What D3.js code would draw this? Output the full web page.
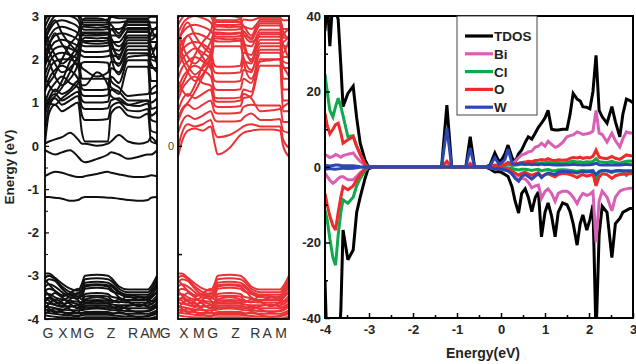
<!DOCTYPE html>
<html>
<head>
<meta charset="utf-8">
<script src="https://cdn.jsdelivr.net/npm/d3@7"></script>
<style>
  body { margin: 0; background: #fff; }
  svg { display: block; font-family: "Liberation Sans", Arial, sans-serif; }
</style>
</head>
<body>
<svg id="chart" width="636" height="364"></svg>
<script>
// ---- Band structure data ----
// k distance of the nodes along the path (same for both spin panels).
const kNodes = [0, 4, 10, 17, 25, 33, 37, 40, 52, 63, 66, 74, 83, 94, 103, 106, 112];
const kLabels = ['G', 'X', 'M', 'G', 'Z', 'R', 'A', 'M'];
// label positions (k distance) as printed under each panel
const kLabelPosUp = [3, 18, 31, 44, 66, 88, 100, 110];
const kLabelPosDown = [-13, 6, 21, 35, 58, 78, 90, 104];

// spin up: defect states inside the gap
const gapBandsUp = [
  [0.05, 0.10, 0.15, 0.20, 0.30, 0.15, 0.05, 0.05, 0.00, 0.05, 0.10, 0.25, 0.10, 0.05, 0.10, 0.20, 0.05],
  [-0.10, -0.15, -0.20, -0.15, -0.10, -0.25, -0.35, -0.38, -0.30, -0.20, -0.15, -0.20, -0.30, -0.25, -0.20, -0.20, -0.10],
  [-0.70, -0.65, -0.60, -0.62, -0.68, -0.72, -0.72, -0.70, -0.65, -0.60, -0.62, -0.66, -0.70, -0.72, -0.70, -0.68, -0.70],
  [-1.18, -1.18, -1.20, -1.22, -1.27, -1.25, -1.20, -1.18, -1.18, -1.20, -1.20, -1.22, -1.25, -1.27, -1.25, -1.20, -1.18]
];

// spin up conduction bands
const condBandsUp = [
  [0.05, 0.75, 0.95, 0.80, 0.90, 1.00, 0.30, 0.10, 0.10, 0.10, 0.75, 0.90, 0.70, 0.65, 0.75, 0.10, 0.05],
  [0.40, 0.90, 1.10, 0.95, 1.05, 1.15, 0.70, 0.60, 0.60, 0.62, 0.90, 1.00, 0.82, 0.80, 0.85, 0.35, 0.30],
  [0.70, 1.05, 1.20, 1.05, 1.15, 1.25, 0.90, 0.85, 0.85, 0.87, 1.05, 1.10, 0.95, 0.92, 0.98, 0.60, 0.55],
  [1.00, 1.25, 1.45, 1.60, 1.45, 1.35, 1.05, 1.00, 1.00, 1.02, 1.30, 1.20, 1.83, 1.83, 1.83, 0.85, 0.90],
  [1.25, 1.55, 1.75, 1.85, 1.75, 1.55, 1.18, 1.15, 1.15, 1.17, 1.60, 1.45, 1.98, 1.98, 1.98, 1.20, 1.25],
  [1.45, 1.75, 1.95, 2.00, 2.00, 1.85, 1.32, 1.29, 1.29, 1.31, 1.80, 1.70, 2.14, 2.14, 2.14, 1.50, 1.50],
  [1.65, 1.90, 2.10, 2.15, 2.10, 2.00, 1.80, 1.75, 1.60, 1.70, 1.95, 1.90, 2.30, 2.30, 2.30, 1.80, 1.80],
  [1.85, 2.05, 2.25, 2.30, 2.25, 2.15, 2.08, 2.05, 2.05, 2.07, 2.10, 2.05, 2.44, 2.44, 2.44, 2.05, 2.05],
  [2.00, 2.20, 2.40, 2.45, 2.40, 2.30, 2.20, 2.17, 2.17, 2.19, 2.25, 2.20, 2.55, 2.55, 2.55, 2.25, 2.25],
  [2.15, 2.35, 2.55, 2.60, 2.55, 2.45, 2.32, 2.30, 2.30, 2.32, 2.40, 2.40, 2.63, 2.63, 2.63, 2.40, 2.40],
  [2.30, 2.50, 2.70, 2.75, 2.70, 2.60, 2.45, 2.42, 2.42, 2.44, 2.55, 2.55, 2.72, 2.72, 2.72, 2.55, 2.55],
  [2.45, 2.65, 2.85, 2.90, 2.85, 2.75, 2.58, 2.55, 2.55, 2.57, 2.70, 2.70, 2.79, 2.79, 2.79, 2.70, 2.70],
  [2.60, 2.80, 3.00, 3.05, 3.00, 2.90, 2.70, 2.68, 2.68, 2.70, 2.85, 2.85, 2.88, 2.88, 2.88, 2.85, 2.85],
  [2.75, 2.95, 3.10, 3.15, 3.10, 3.00, 2.82, 2.79, 2.79, 2.81, 2.98, 2.95, 2.95, 2.95, 2.95, 2.98, 2.98],
  [2.90, 3.05, 3.20, 3.25, 3.20, 3.10, 2.92, 2.90, 2.90, 2.92, 3.10, 3.05, 3.05, 3.05, 3.05, 3.10, 3.10],
  [1.30, 1.45, 1.65, 2.00, 2.35, 2.60, 2.88, 2.95, 2.95, 2.88, 2.50, 2.30, 2.50, 2.50, 2.50, 2.30, 1.90],
  [2.20, 1.95, 1.60, 1.40, 1.55, 1.90, 2.45, 2.50, 2.48, 2.50, 2.20, 1.85, 2.22, 2.22, 2.22, 2.10, 2.40],
  [2.70, 2.40, 2.10, 1.90, 2.05, 2.35, 2.62, 2.62, 2.62, 2.62, 2.35, 2.10, 2.37, 2.37, 2.37, 2.60, 2.75],
  [0.90, 1.10, 1.30, 1.20, 1.30, 1.50, 1.40, 1.40, 1.70, 1.40, 1.15, 1.05, 0.95, 1.00, 1.05, 0.70, 0.80],
  [1.60, 1.40, 1.25, 1.50, 1.95, 2.20, 2.55, 2.60, 2.58, 2.60, 2.05, 1.65, 2.05, 2.08, 2.10, 1.90, 1.70],
  [2.50, 2.20, 1.90, 1.70, 1.80, 2.10, 2.75, 2.75, 2.73, 2.75, 2.45, 2.00, 2.68, 2.68, 2.68, 2.45, 2.60],
  [1.90, 2.30, 2.60, 2.35, 2.10, 1.85, 2.40, 2.38, 2.36, 2.38, 2.70, 2.50, 2.85, 2.85, 2.85, 2.00, 1.95],
  [2.40, 2.70, 2.90, 2.60, 2.35, 2.20, 2.85, 2.85, 2.85, 2.85, 2.80, 2.60, 2.92, 2.92, 2.92, 2.70, 2.50],
  [0.80, 1.00, 1.15, 1.35, 1.70, 2.00, 1.55, 1.55, 1.55, 1.55, 1.35, 1.25, 1.05, 1.05, 1.05, 1.00, 1.10],
  [1.15, 1.00, 0.95, 1.10, 1.25, 1.45, 1.92, 1.94, 1.94, 1.92, 1.50, 1.35, 1.15, 1.18, 1.20, 1.30, 1.40]
];

// spin down conduction bands
const condBandsDown = [
  [-0.25, 0.10, 0.35, 0.40, 0.35, 0.45, 0.05, -0.20, -0.05, 0.25, 0.30, 0.35, 0.38, 0.38, 0.35, 0.00, -0.25],
  [-0.05, 0.30, 0.50, 0.45, 0.50, 0.60, 0.30, 0.20, 0.25, 0.40, 0.45, 0.50, 0.45, 0.45, 0.45, 0.15, -0.05],
  [0.30, 0.55, 0.70, 0.62, 0.70, 0.80, 0.60, 0.56, 0.56, 0.58, 0.65, 0.75, 0.60, 0.60, 0.62, 0.35, 0.30],
  [0.55, 0.80, 0.95, 0.85, 0.95, 1.05, 0.78, 0.75, 0.75, 0.77, 0.90, 0.95, 0.93, 0.93, 0.93, 0.55, 0.55],
  [0.80, 1.05, 1.20, 1.10, 1.20, 1.30, 0.93, 0.90, 0.90, 0.92, 1.10, 1.15, 1.85, 1.85, 1.85, 0.80, 0.80],
  [1.05, 1.30, 1.50, 1.60, 1.45, 1.40, 1.12, 1.10, 1.10, 1.12, 1.30, 1.25, 2.00, 2.00, 2.00, 1.05, 1.05],
  [1.30, 1.55, 1.75, 1.85, 1.75, 1.60, 1.32, 1.29, 1.29, 1.31, 1.55, 1.45, 2.15, 2.15, 2.15, 1.30, 1.30],
  [1.55, 1.80, 1.95, 2.05, 1.95, 1.80, 1.50, 1.48, 1.48, 1.50, 1.75, 1.70, 2.30, 2.30, 2.30, 1.55, 1.55],
  [1.80, 2.00, 2.15, 2.25, 2.15, 2.00, 1.70, 1.68, 1.68, 1.70, 1.95, 1.90, 2.45, 2.45, 2.45, 1.80, 1.80],
  [2.00, 2.20, 2.35, 2.40, 2.35, 2.20, 1.85, 1.83, 1.83, 1.85, 2.15, 2.10, 2.58, 2.58, 2.58, 2.05, 2.05],
  [2.20, 2.40, 2.55, 2.60, 2.55, 2.45, 2.43, 2.41, 2.41, 2.43, 2.35, 2.30, 2.68, 2.68, 2.68, 2.30, 2.30],
  [2.40, 2.60, 2.75, 2.80, 2.75, 2.65, 2.54, 2.52, 2.52, 2.54, 2.55, 2.50, 2.78, 2.78, 2.78, 2.50, 2.50],
  [2.60, 2.80, 2.95, 3.00, 2.95, 2.85, 2.70, 2.68, 2.68, 2.70, 2.75, 2.70, 2.88, 2.88, 2.88, 2.70, 2.70],
  [2.80, 2.95, 3.10, 3.15, 3.10, 3.00, 2.82, 2.79, 2.79, 2.81, 2.92, 2.90, 2.96, 2.96, 2.96, 2.90, 2.90],
  [2.95, 3.08, 3.20, 3.25, 3.20, 3.12, 2.92, 2.90, 2.90, 2.92, 3.05, 3.05, 3.05, 3.05, 3.05, 3.05, 3.05],
  [1.20, 1.40, 1.70, 2.10, 2.40, 2.65, 2.95, 3.00, 3.00, 2.95, 2.60, 2.40, 2.52, 2.52, 2.52, 2.35, 2.00],
  [2.30, 2.00, 1.70, 1.50, 1.65, 2.00, 2.30, 2.30, 2.30, 2.30, 2.05, 1.75, 2.22, 2.22, 2.22, 2.15, 2.45],
  [2.65, 2.35, 2.05, 1.90, 2.10, 2.40, 2.62, 2.62, 2.60, 2.62, 2.30, 2.00, 2.37, 2.37, 2.37, 2.55, 2.70],
  [1.50, 1.30, 1.15, 1.40, 1.85, 2.15, 2.48, 2.48, 2.46, 2.48, 1.95, 1.55, 1.95, 1.98, 2.00, 1.85, 1.60],
  [2.45, 2.15, 1.85, 1.65, 1.80, 2.05, 2.76, 2.76, 2.74, 2.76, 2.45, 1.95, 2.62, 2.62, 2.62, 2.40, 2.55],
  [1.85, 2.25, 2.55, 2.30, 2.05, 1.80, 2.60, 2.58, 2.58, 2.60, 2.65, 2.45, 2.83, 2.83, 2.83, 1.95, 1.90],
  [2.35, 2.65, 2.85, 2.55, 2.30, 2.15, 2.86, 2.86, 2.86, 2.86, 2.78, 2.55, 2.92, 2.92, 2.92, 2.65, 2.45],
  [0.65, 0.85, 1.00, 1.25, 1.60, 1.90, 1.05, 1.02, 1.02, 1.05, 1.20, 1.10, 0.80, 0.82, 0.85, 0.90, 1.00]
];

// valence bands (both spins look the same)
const valBands = [
  [-2.95, -2.95, -3.05, -3.18, -3.30, -3.35, -3.18, -3.00, -2.98, -3.00, -3.05, -3.25, -3.32, -3.32, -3.32, -3.25, -3.00],
  [-3.05, -3.00, -3.08, -3.25, -3.38, -3.42, -3.28, -3.08, -3.06, -3.08, -3.12, -3.30, -3.38, -3.38, -3.38, -3.32, -3.08],
  [-3.15, -3.08, -3.12, -3.30, -3.45, -3.48, -3.38, -3.16, -3.14, -3.16, -3.20, -3.36, -3.44, -3.44, -3.44, -3.40, -3.16],
  [-3.25, -3.20, -3.25, -3.38, -3.50, -3.52, -3.46, -3.30, -3.28, -3.30, -3.35, -3.42, -3.50, -3.50, -3.50, -3.46, -3.26],
  [-3.35, -3.30, -3.35, -3.45, -3.42, -3.48, -3.55, -3.42, -3.40, -3.42, -3.48, -3.52, -3.56, -3.56, -3.56, -3.52, -3.36],
  [-3.45, -3.42, -3.50, -3.55, -3.58, -3.60, -3.62, -3.55, -3.50, -3.55, -3.58, -3.60, -3.62, -3.62, -3.62, -3.60, -3.46],
  [-3.55, -3.52, -3.60, -3.65, -3.62, -3.66, -3.68, -3.62, -3.60, -3.62, -3.66, -3.68, -3.68, -3.68, -3.68, -3.66, -3.56],
  [-3.62, -3.64, -3.68, -3.72, -3.70, -3.74, -3.74, -3.70, -3.68, -3.70, -3.72, -3.74, -3.75, -3.75, -3.75, -3.72, -3.64],
  [-3.70, -3.72, -3.75, -3.78, -3.80, -3.80, -3.80, -3.78, -3.76, -3.78, -3.80, -3.80, -3.82, -3.82, -3.82, -3.80, -3.72],
  [-3.78, -3.80, -3.82, -3.84, -3.86, -3.86, -3.86, -3.84, -3.83, -3.84, -3.86, -3.87, -3.88, -3.88, -3.88, -3.86, -3.80],
  [-3.85, -3.86, -3.88, -3.90, -3.92, -3.92, -3.92, -3.90, -3.90, -3.90, -3.92, -3.93, -3.94, -3.94, -3.94, -3.92, -3.88],
  [-3.92, -3.93, -3.95, -3.96, -3.97, -3.98, -3.98, -3.96, -3.96, -3.96, -3.97, -3.98, -3.99, -3.99, -3.99, -3.98, -3.94],
  [-3.35, -3.45, -3.58, -3.70, -3.55, -3.40, -3.48, -3.25, -3.22, -3.25, -3.30, -3.50, -3.60, -3.70, -3.60, -3.50, -3.40],
  [-3.60, -3.50, -3.40, -3.50, -3.65, -3.75, -3.60, -3.48, -3.46, -3.48, -3.55, -3.62, -3.44, -3.48, -3.52, -3.58, -3.60],
  [-3.75, -3.65, -3.55, -3.62, -3.78, -3.85, -3.70, -3.65, -3.64, -3.65, -3.70, -3.78, -3.70, -3.66, -3.72, -3.74, -3.70],
  [-3.10, -3.20, -3.35, -3.48, -3.40, -3.30, -3.40, -3.22, -3.20, -3.22, -3.24, -3.40, -3.47, -3.55, -3.47, -3.38, -3.22],
  [-3.50, -3.58, -3.66, -3.58, -3.50, -3.56, -3.72, -3.58, -3.56, -3.58, -3.62, -3.55, -3.60, -3.70, -3.62, -3.65, -3.52],
  [-3.68, -3.76, -3.85, -3.80, -3.72, -3.68, -3.78, -3.74, -3.72, -3.74, -3.76, -3.70, -3.78, -3.85, -3.80, -3.78, -3.68],
  [-3.88, -3.82, -3.76, -3.84, -3.90, -3.95, -3.88, -3.86, -3.86, -3.86, -3.90, -3.84, -3.90, -3.96, -3.92, -3.90, -3.84]
];

// ---- DOS data ----
const dosEnergy = [-4.0, -3.95, -3.89, -3.82, -3.76, -3.7, -3.64, -3.59, -3.48, -3.36, -3.28, -3.2, -3.09, -3.02, -2.9,
  -1.35, -1.23, -1.12, -0.8, -0.7, -0.6, -0.35,
  -0.25, -0.14, -0.05, 0.02, 0.09, 0.16, 0.25, 0.32, 0.4, 0.47, 0.55, 0.62, 0.7, 0.78, 0.85, 0.92, 1.0, 1.07,
  1.15, 1.23, 1.3, 1.4, 1.5, 1.57, 1.64, 1.73, 1.8, 1.86, 1.95, 2.02, 2.09, 2.16, 2.23, 2.3, 2.41, 2.52, 2.6,
  2.7, 2.77, 2.85, 2.93, 3.0];

const tdosUp = [36, 45, 32, 45, 42, 39, 27, 16, 19.5, 21.4, 13, 6.3, 1.8, 0.2, 0,
  0, 16.4, 0, 0, 8, 0, 0,
  0.5, 3.7, 1.5, 2, 3.5, 5.8, 2.5, 1.3, 3.5, 4.5, 6.5, 8, 7.4, 9, 10.5, 11.6, 13, 15, 10, 9.8,
  9.8, 10, 10, 14, 19.5, 18, 17.5, 16, 15.8, 15.4, 20, 29.6, 15, 13.3, 11.6, 16, 12, 8, 14, 18, 17.6, 17];
const tdosDown = [-30, -50, -50, -50, -50, -50, -38, -16.7, -24.6, -22, -12, -8, -3, -0.5, 0,
  0, 0, 0, 0, 0, 0, 0,
  -0.5, -1.3, -1.2, -1.5, -2, -2.5, -5.2, -9, -12.2, -7, -5.8, -8, -11.8, -8, -6.6, -18.5, -12, -9.5, -13, -18.5,
  -12, -9.5, -10, -11.8, -15, -20.7, -15, -12.7, -16.7, -14, -10, -45, -18, -10.4, -12, -24, -15, -13.6, -12, -11.5, -11, -11];

const biUp = [3.3, 3.0, 2.5, 2.8, 3.3, 3.0, 2.6, 3.0, 3.4, 3.7, 2.5, 1.5, 0.5, 0.1, 0,
  0, 0.3, 0, 0, 1.0, 0, 0,
  0.1, 0.5, 0.3, 0.5, 0.8, 1.2, 0.8, 1.5, 2.5, 3.2, 3.5, 4, 4.2, 5.3, 5.5, 6.3, 5.5, 6.8, 6, 5.2,
  5.5, 6.5, 8, 8.3, 8.5, 9.3, 9, 8.6, 8.8, 9, 9.5, 15, 9, 8.6, 6.6, 9, 7, 5.3, 7.5, 9.3, 9, 9];
const biDown = [-1.6, -2.5, -3.5, -4.3, -3.8, -3.0, -2.6, -2.6, -3.4, -3.4, -2.5, -1.5, -0.5, -0.1, 0,
  0, 0, 0, 0, 0, 0, 0,
  -0.2, -0.5, -0.4, -0.6, -0.8, -1, -1.8, -2.5, -3.6, -3, -3.2, -4, -5.5, -5, -4.8, -8.3, -6.5, -5.8, -7, -9.1,
  -7, -6.4, -6.4, -7, -8, -9.7, -8, -7, -7.5, -7.2, -6.5, -20, -9, -6.4, -8, -11.6, -8, -6.4, -6, -5.8, -5.6, -5.6];

const clUp = [24.6, 20, 15, 13.3, 16, 18.2, 16, 13.6, 8, 8.3, 5.5, 3.5, 0.9, 0.1, 0,
  0, 0, 0, 0, 0, 0, 0,
  0.1, 0.3, 0.2, 0.3, 0.4, 0.6, 0.4, 0.5, 0.6, 0.8, 0.7, 0.9, 0.8, 1.0, 0.9, 1.1, 1.0, 1.3, 1.0, 1.1,
  1.2, 1.0, 1.2, 1.4, 1.5, 1.3, 1.4, 1.2, 1.4, 1.3, 1.5, 2.2, 1.4, 1.3, 1.2, 1.5, 1.2, 1.0, 1.3, 1.5, 1.6, 1.5];
const clDown = [-11.4, -14, -19, -24, -26, -18, -12, -8.7, -9.6, -8, -5, -3, -1, -0.1, 0,
  0, 0, 0, 0, 0, 0, 0,
  0, -0.1, -0.1, -0.2, -0.2, -0.3, -0.4, -0.6, -0.8, -0.6, -0.6, -0.7, -0.9, -0.7, -0.6, -1.0, -0.8, -0.7, -0.9, -1.0,
  -0.8, -0.7, -0.8, -0.9, -1.0, -1.2, -1.0, -0.9, -1.0, -1.0, -0.9, -3.5, -1.2, -0.9, -1.0, -1.5, -1.1, -1.0, -1.2, -2.2, -1.4, -1.3];

const oUp = [14.2, 11, 8.8, 10, 11.2, 11.6, 9, 6.3, 7.2, 8, 5.5, 3.3, 0.8, 0.1, 0,
  0, 1.5, 0, 0, 0.8, 0, 0,
  0.1, 0.5, 0.3, 0.4, 0.6, 1.2, 0.6, 0.8, 1.0, 1.2, 1.3, 1.5, 1.4, 1.7, 1.8, 2.0, 1.8, 2.2, 1.8, 1.7,
  1.9, 1.8, 1.9, 2.3, 2.5, 2.4, 2.6, 2.3, 2.5, 2.4, 2.8, 4.5, 2.6, 2.4, 2.2, 2.8, 2.3, 2.0, 2.6, 3.2, 3.0, 3.0];
const oDown = [-7, -10, -13, -15.5, -16.7, -12, -8, -5.2, -6, -5, -3.4, -2, -0.6, 0, 0,
  0, 0, 0, 0, 0, 0, 0,
  -0.1, -0.3, -0.3, -0.4, -0.5, -0.6, -1.0, -1.6, -2.2, -1.6, -1.4, -1.8, -2.2, -1.8, -1.5, -2.6, -2.0, -1.8, -2.2, -2.6,
  -2.0, -1.7, -1.8, -2.0, -2.3, -2.8, -2.3, -2.0, -2.4, -2.2, -1.8, -5, -2.6, -1.8, -2.0, -3.0, -2.3, -2.0, -1.9, -1.8, -1.8, -1.8];

const wUp = [0.5, 0.4, 0.3, 0.4, 0.5, 0.5, 0.4, 0.3, 0.3, 0.3, 0.2, 0.1, 0, 0, 0,
  0, 10.3, 0, 0, 5, 0, 0,
  0.3, 2.5, 0.8, 1.2, 2.0, 4.8, 1.0, 0.6, 0.8, 0.9, 0.7, 0.8, 0.6, 0.7, 0.6, 0.8, 0.6, 0.7, 0.6, 0.5,
  0.6, 0.5, 0.6, 0.6, 0.7, 0.6, 0.6, 0.5, 0.6, 0.6, 0.7, 1.0, 0.6, 0.5, 0.5, 0.6, 0.5, 0.5, 0.6, 0.7, 0.6, 0.6];
const wDown = [-0.5, -0.5, -0.4, -0.5, -0.6, -0.5, -0.4, -0.3, -0.4, -0.3, -0.2, -0.1, 0, 0, 0,
  0, 0, 0, 0, 0, 0, 0,
  -0.2, -0.5, -0.4, -0.6, -0.8, -1.0, -1.8, -3.0, -3.8, -2.5, -2.0, -2.5, -3.2, -2.4, -1.8, -2.8, -2.0, -1.6, -1.8, -2.0,
  -1.4, -1.2, -1.2, -1.3, -1.4, -1.6, -1.3, -1.2, -1.3, -1.2, -1.1, -2.0, -1.2, -1.0, -1.0, -1.2, -1.0, -0.9, -1.0, -1.0, -1.0, -1.0];

const dosNames = ['TDOS', 'Bi', 'Cl', 'O', 'W'];
const dosColors = ['#000000', '#d95fb5', '#10a84a', '#ee2a2a', '#2c48b0'];
const dosUp = [tdosUp, biUp, clUp, oUp, wUp];
const dosDown = [tdosDown, biDown, clDown, oDown, wDown];

// ---- drawing ----
const svg = d3.select('#chart');
const bandTop = 16, bandBottom = 319;
const yBand = d3.scaleLinear().domain([-4, 3]).range([bandBottom, bandTop]);
const plainNum = d => String(d);   // keep an ascii hyphen like the original

function drawBandPanel(id, x0, x1, bandSets, color, labelPos, leftAxis) {
  const xk = d3.scaleLinear().domain([0, 112]).range([x0, x1]);
  const g = svg.append('g');

  svg.append('clipPath').attr('id', id)
    .append('rect')
    .attr('x', x0).attr('y', bandTop)
    .attr('width', x1 - x0).attr('height', bandBottom - bandTop);

  const line = d3.line()
    .x((d, i) => xk(kNodes[i]))
    .y(d => yBand(d))
    .curve(d3.curveMonotoneX);

  const lines = g.append('g').attr('clip-path', 'url(#' + id + ')');
  bandSets.forEach(function (set) {
    lines.selectAll(null)
      .data(set)
      .join('path')
      .attr('d', line)
      .attr('fill', 'none')
      .attr('stroke', color)
      .attr('stroke-width', 2);
  });

  // frame
  g.append('rect')
    .attr('x', x0).attr('y', bandTop)
    .attr('width', x1 - x0).attr('height', bandBottom - bandTop)
    .attr('fill', 'none').attr('stroke', '#000').attr('stroke-width', 1.8);

  // k labels
  g.selectAll('text.k')
    .data(kLabels)
    .join('text')
    .attr('class', 'k')
    .attr('x', (d, i) => xk(labelPos[i]))
    .attr('y', 338)
    .attr('text-anchor', 'middle')
    .attr('font-size', 14)
    .attr('fill', '#333')
    .text(d => d);

  if (leftAxis) {
    const ax = d3.axisLeft(yBand).ticks(7).tickSize(-4).tickPadding(6).tickFormat(plainNum);
    const ag = g.append('g').attr('transform', 'translate(' + x0 + ',0)').call(ax);
    ag.select('.domain').remove();
    ag.selectAll('text').attr('font-size', 13).attr('font-weight', 'bold').attr('fill', '#222');
    ag.selectAll('line').attr('stroke-width', 1.2);
    const minor = d3.axisLeft(yBand).tickValues([2.5, 1.5, 0.5, -0.5, -1.5, -2.5, -3.5]).tickSize(-3).tickFormat('');
    const mg = g.append('g').attr('transform', 'translate(' + x0 + ',0)').call(minor);
    mg.select('.domain').remove();
  } else {
    const ax = d3.axisLeft(yBand).tickValues([2.5, 0, -2.5]).tickSize(-4).tickPadding(4)
      .tickFormat(d => d === 0 ? '0' : '');
    const ag = g.append('g').attr('transform', 'translate(' + x0 + ',0)').call(ax);
    ag.select('.domain').remove();
    ag.selectAll('text').attr('font-size', 11).attr('fill', '#444');
    ag.selectAll('line').attr('stroke-width', 1.5);
  }
}

drawBandPanel('clipUp', 45, 157, [valBands, condBandsUp, gapBandsUp], '#111', kLabelPosUp, true);
drawBandPanel('clipDown', 178, 289, [valBands, condBandsDown], '#ea3338', kLabelPosDown, false);

svg.append('text')
  .attr('transform', 'translate(14,167) rotate(-90)')
  .attr('text-anchor', 'middle')
  .attr('font-size', 13.5)
  .attr('font-weight', 'bold')
  .attr('fill', '#222')
  .text('Energy (eV)');

// DOS panel
const dx0 = 325, dx1 = 633, dy0 = 16, dy1 = 318;
const xE = d3.scaleLinear().domain([-4, 3]).range([dx0, dx1]);
const yD = d3.scaleLinear().domain([-40, 40]).range([dy1, dy0]);

svg.append('clipPath').attr('id', 'clipDos')
  .append('rect').attr('x', dx0).attr('y', dy0).attr('width', dx1 - dx0).attr('height', dy1 - dy0);

const dosG = svg.append('g').attr('clip-path', 'url(#clipDos)');
const dosLine = d3.line().x((d, i) => xE(dosEnergy[i])).y(d => yD(d));

dosNames.forEach(function (name, s) {
  [dosUp[s], dosDown[s]].forEach(function (vals) {
    dosG.append('path')
      .attr('d', dosLine(vals))
      .attr('fill', 'none')
      .attr('stroke', dosColors[s])
      .attr('stroke-width', 3)
      .attr('stroke-linejoin', 'miter')
      .attr('stroke-miterlimit', 3);
  });
});

svg.append('rect')
  .attr('x', dx0).attr('y', dy0).attr('width', dx1 - dx0).attr('height', dy1 - dy0)
  .attr('fill', 'none').attr('stroke', '#000').attr('stroke-width', 2);

// axes
const xAx = svg.append('g').attr('transform', 'translate(0,' + dy1 + ')')
  .call(d3.axisBottom(xE).ticks(7).tickSize(-5).tickPadding(7).tickFormat(plainNum));
xAx.select('.domain').remove();
xAx.selectAll('text').attr('font-size', 13).attr('font-weight', 'bold').attr('fill', '#222');
xAx.selectAll('line').attr('stroke-width', 1.5);
const xMinor = svg.append('g').attr('transform', 'translate(0,' + dy1 + ')')
  .call(d3.axisBottom(xE).tickValues(d3.range(-3.5, 3, 1)).tickSize(-3).tickFormat(''));
xMinor.select('.domain').remove();
xMinor.selectAll('line').attr('stroke-width', 1.5);

const yAx = svg.append('g').attr('transform', 'translate(' + dx0 + ',0)')
  .call(d3.axisLeft(yD).tickValues([-40, -20, 0, 20, 40]).tickSize(-5).tickPadding(4).tickFormat(plainNum));
yAx.select('.domain').remove();
yAx.selectAll('text').attr('font-size', 13).attr('font-weight', 'bold').attr('fill', '#222');
yAx.selectAll('line').attr('stroke-width', 1.5);
const yMinor = svg.append('g').attr('transform', 'translate(' + dx0 + ',0)')
  .call(d3.axisLeft(yD).tickValues([-30, -10, 10, 30]).tickSize(-3).tickFormat(''));
yMinor.select('.domain').remove();
yMinor.selectAll('line').attr('stroke-width', 1.5);

svg.append('text')
  .attr('x', 483).attr('y', 358)
  .attr('text-anchor', 'middle')
  .attr('font-size', 14)
  .attr('font-weight', 'bold')
  .attr('fill', '#222')
  .text('Energy(eV)');

// legend
const leg = svg.append('g');
leg.append('rect')
  .attr('x', 457).attr('y', dy0).attr('width', 80).attr('height', 99)
  .attr('fill', '#fff').attr('stroke', '#444').attr('stroke-width', 1);
dosNames.forEach(function (name, i) {
  const y = 36 + i * 17.8;
  leg.append('line')
    .attr('x1', 465).attr('x2', 493).attr('y1', y).attr('y2', y)
    .attr('stroke', dosColors[i]).attr('stroke-width', 3.2);
  leg.append('text')
    .attr('x', 494).attr('y', y + 5)
    .attr('font-size', 13.5)
    .attr('font-weight', 'bold')
    .attr('fill', '#222')
    .text(name);
});
</script>
</body>
</html>
